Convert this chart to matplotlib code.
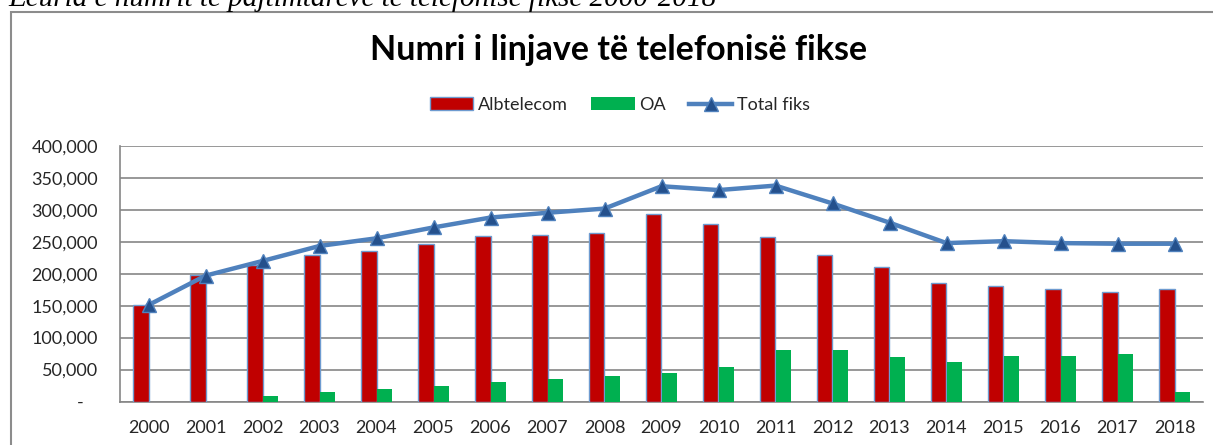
import matplotlib
matplotlib.use("Agg")
import matplotlib.pyplot as plt
import numpy as np
from matplotlib.patches import Rectangle
from matplotlib.ticker import FuncFormatter, MultipleLocator

# ── Data ────────────────────────────────────────────────────────
years = [str(y) for y in range(2000, 2019)]
albtelecom = [151000, 198000, 214000, 229000, 236000, 247000, 259000, 261000, 264000,
              293000, 278000, 258000, 230000, 211000, 186000, 181000, 176000, 172000, 176000]
oa = [0, 0, 9000, 15000, 20000, 24500, 30000, 35000, 39500,
      44000, 54000, 80000, 81000, 70000, 62500, 72000, 72000, 75000, 15000]
total_fiks = [151000, 197000, 220000, 243500, 255500, 272500, 288000, 295500, 302000,
              337000, 331000, 338000, 310000, 280000, 248000, 251000, 248000, 247000, 247000]

caption = "Ecuria e numrit te pajtimtareve te telefonise fikse 2000-2018"
title = "Numri i linjave të telefonisë fikse"

W, H = 1213, 445
fig = plt.figure(figsize=(W / 100, H / 100), dpi=100)
plt.rcParams["font.family"] = ["Lato", "DejaVu Sans"]

ax = fig.add_axes([120 / W, 1 - 401.5 / H, (1203 - 120) / W, (401.5 - 146) / H])

x = np.arange(len(years))
bw = 0.28
b1 = ax.bar(x - bw / 2, albtelecom, width=bw, color="#C00000", edgecolor="#6E9BD0",
            linewidth=1.0, label="Albtelecom", zorder=3)
b2 = ax.bar(x + bw / 2, oa, width=bw, color="#00B050", linewidth=0, label="OA", zorder=3)
ln, = ax.plot(x, total_fiks, color="#4F81BD", linewidth=3.2, marker="^", markersize=10,
              markerfacecolor="#24508C", markeredgecolor="#4F81BD", markeredgewidth=1.0,
              label="Total fiks", zorder=4)

ax.set_xlim(-0.5, len(years) - 0.5)
ax.set_ylim(0, 400000)
ax.yaxis.set_major_locator(MultipleLocator(50000))
ax.yaxis.set_major_formatter(FuncFormatter(lambda v, p: "-   " if v == 0 else f"{int(v):,}"))
ax.set_xticks(x)
ax.set_xticklabels(years)
ax.tick_params(axis="both", length=0, labelsize=13, colors="#262626")
ax.tick_params(axis="y", pad=16)
ax.tick_params(axis="x", pad=13)

ax.grid(axis="y", color="#868686", linewidth=1.2, zorder=0)
ax.set_axisbelow(True)
for s in ["top", "right"]:
    ax.spines[s].set_visible(False)
for s in ["left", "bottom"]:
    ax.spines[s].set_color("#868686")
    ax.spines[s].set_linewidth(1.2)

# legend across the top
fig.legend([b1, b2, ln], ["Albtelecom", "OA", "Total fiks"], loc="center",
           bbox_to_anchor=(620 / W, 1 - 105 / H), ncol=3, frameon=False,
           fontsize=13, handlelength=2.4, handletextpad=0.25, columnspacing=1.3,
           labelcolor="#262626")

fig.text(619 / W, 1 - 50 / H, title, ha="center", va="center", fontsize=24.5,
         fontweight="bold", color="black")

# chart border and the cut caption line above it
fig.patches.append(Rectangle((11 / W, -0.1), 1.2, 1.1 - 12.5 / H, transform=fig.transFigure,
                             fill=False, edgecolor="#8C8C8C", linewidth=1.5))
fig.text(8 / W, 1 - 6.0 / H, caption, ha="left", va="baseline", fontsize=21,
         fontstyle="italic", family="Liberation Serif", color="black")

fig.savefig("out.png", dpi=100)
